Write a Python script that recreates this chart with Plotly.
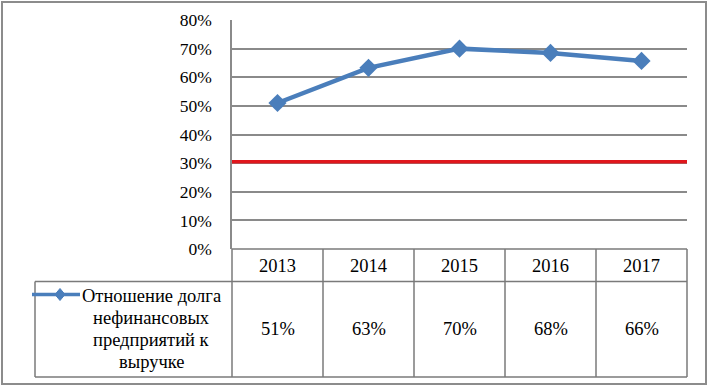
import plotly.graph_objects as go

years = ["2013", "2014", "2015", "2016", "2017"]
ratio = [0.51, 0.633, 0.70, 0.685, 0.657]
table_labels = ["51%", "63%", "70%", "68%", "66%"]
threshold = 0.305
series_name = ["Отношение долга", "нефинансовых", "предприятий к", "выручке"]

W, H = 709, 387
def px(x):
    return x / W
def py(y):
    return 1 - y / H

BLUE = "#4a7ebb"
GRID = "#8a8a8a"
FONT = dict(family="'Liberation Serif', 'Times New Roman', serif", size=18.5, color="black")
AXFONT = dict(family="'Liberation Serif', 'Times New Roman', serif", size=17.5, color="black")

x_left, x_right = 232, 687
y_top, y_bot = 20, 249

fig = go.Figure()
fig.add_trace(go.Scatter(
    x=[-0.5, len(years) - 0.5], y=[threshold, threshold], mode="lines",
    line=dict(color="#e0161c", width=3.5), showlegend=False, hoverinfo="skip"))
fig.add_trace(go.Scatter(
    x=list(range(len(years))), y=ratio, mode="lines+markers",
    line=dict(color=BLUE, width=4.5),
    marker=dict(symbol="diamond", size=14, color=BLUE),
    showlegend=False))

fig.update_layout(
    template="none",
    width=W, height=H, autosize=False,
    margin=dict(l=0, r=0, t=0, b=0, autoexpand=False),
    paper_bgcolor="white", plot_bgcolor="white",
    font=FONT,
    xaxis=dict(domain=[px(x_left), px(x_right)], type="linear", range=[-0.5, len(years) - 0.5],
               showgrid=False, showticklabels=False, zeroline=False, showline=False,
               automargin=False, fixedrange=True),
    yaxis=dict(domain=[py(y_bot), py(y_top)], range=[0, 0.8], dtick=0.1,
               tickformat=".0%", showgrid=True, gridcolor=GRID, gridwidth=2,
               zeroline=False, showline=True, linecolor=GRID, linewidth=1.5,
               automargin=False, ticks="", ticklabelstandoff=15, tickfont=AXFONT),
)

shapes = []
LC = "#7a7a7a"
def hline(x0, x1, y, w=1.5, c=LC):
    shapes.append(dict(type="line", xref="paper", yref="paper",
                       x0=px(x0), x1=px(x1), y0=py(y), y1=py(y),
                       line=dict(color=c, width=w)))
def vline(x, y0, y1, w=1.5, c=LC):
    shapes.append(dict(type="line", xref="paper", yref="paper",
                       x0=px(x), x1=px(x), y0=py(y0), y1=py(y1),
                       line=dict(color=c, width=w)))

# outer border
shapes.append(dict(type="rect", xref="paper", yref="paper",
                   x0=px(2), x1=px(706), y0=py(384), y1=py(2),
                   line=dict(color="#8c8c8c", width=2)))
# data table
hline(x_left, x_right, y_bot)
hline(35, x_right, 281.5)
hline(35, x_right, 377)
vline(35, 281.5, 377)
col_w = (x_right - x_left) / len(years)
for k in range(len(years) + 1):
    vline(x_left + col_w * k, y_bot, 377)

# legend key in the table
shapes.append(dict(type="line", xref="paper", yref="paper",
                   x0=px(32), x1=px(80), y0=py(294.5), y1=py(294.5),
                   line=dict(color=BLUE, width=3.5)))
cx, cy, rx, ry = 60, 294.5, 5, 6
shapes.append(dict(type="path", xref="paper", yref="paper",
                   path=f"M {px(cx)},{py(cy - ry)} L {px(cx + rx)},{py(cy)} L {px(cx)},{py(cy + ry)} L {px(cx - rx)},{py(cy)} Z",
                   fillcolor=BLUE, line=dict(color=BLUE, width=1)))
fig.update_layout(shapes=shapes)

ann = []
for i, (yr, lab) in enumerate(zip(years, table_labels)):
    ann.append(dict(x=i, y=py(265.5), xref="x", yref="paper", text=yr,
                    showarrow=False, font=FONT, xanchor="center", yanchor="middle"))
    ann.append(dict(x=i, y=py(329), xref="x", yref="paper", text=lab,
                    showarrow=False, font=FONT, xanchor="center", yanchor="middle"))
for j, line in enumerate(series_name):
    ann.append(dict(x=px(151), y=py(295.5 + 22 * j), xref="paper", yref="paper",
                    text=line, showarrow=False, font=FONT,
                    xanchor="center", yanchor="middle"))
fig.update_layout(annotations=ann)

fig.write_html("out.html", config={"displayModeBar": False},
               post_script="document.body.style.margin='0';document.body.style.overflow='hidden';")
